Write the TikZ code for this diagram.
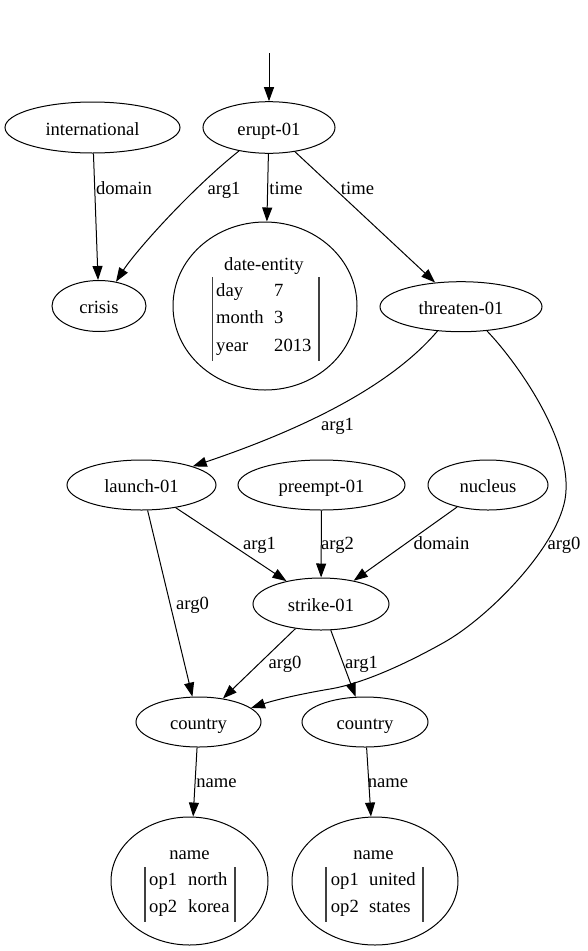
\documentclass[tikz,border=0pt]{standalone}
\usepackage{fontspec}
\setmainfont{Liberation Serif}
\usetikzlibrary{shapes.geometric,arrows.meta}
\begin{document}
\begin{tikzpicture}[x=1pt,y=-1pt,
  every node/.style={font=\fontsize{18.6}{22}\selectfont},
  concept/.style={ellipse, draw, line width=1pt, inner sep=0pt, text height=15pt, text depth=0pt, minimum height=51pt},
  lbl/.style={anchor=base, inner sep=0pt},
  cell/.style={anchor=base west, inner sep=0pt},
  rel/.style={draw, line width=1pt, -{Triangle[length=14pt,width=10pt]}},
  bar/.style={line width=1.3pt, black!75}]
\useasboundingbox (0,0) rectangle (588,951);

% concepts
\node[concept, minimum width=132pt, minimum height=51.6pt] (erupt) at (269,127.5) {erupt-01};
\node[concept, minimum width=175pt] (intl) at (92.5,127.5) {international};
\node[concept, minimum width=94pt] (crisis) at (99,306) {crisis};
\node[concept, minimum width=184pt, minimum height=168pt] (date) at (265,306) {};
\node[concept, minimum width=162pt, minimum height=50pt] (threaten) at (461,306.7) {threaten-01};
\node[concept, minimum width=149pt, minimum height=50pt] (launch) at (141.5,485) {launch-01};
\node[concept, minimum width=167pt, minimum height=50pt] (preempt) at (321.5,485) {preempt-01};
\node[concept, minimum width=120pt, minimum height=50pt] (nucleus) at (488,485) {nucleus};
\node[concept, minimum width=136pt, minimum height=52pt] (strike) at (321,604) {strike-01};
\node[concept, minimum width=125pt, minimum height=50pt] (country1) at (198.5,722) {country};
\node[concept, minimum width=126pt, minimum height=50pt] (country2) at (365,722) {country};
\node[concept, minimum width=157pt, minimum height=128pt] (name1) at (189.5,881) {};
\node[concept, minimum width=166pt, minimum height=128pt] (name2) at (375,881) {};

% date-entity attributes
\node[lbl] (dtitle) at (264,270) {date-entity};
\node[cell] (dk1) at (216,296) {day};   \node[cell] (dv1) at (274,296) {7};
\node[cell] (dk2) at (216,323) {month}; \node[cell] (dv2) at (274,323) {3};
\node[cell] (dk3) at (216,351) {year};  \node[cell] (dv3) at (274,351) {2013};
\draw[bar] (212.7,277) -- (212.7,361);
\draw[bar] (319,277) -- (319,361);

% name attributes (north korea)
\node[lbl] (n1title) at (189.5,859) {name};
\node[cell] (n1k1) at (149,885) {op1}; \node[cell] (n1v1) at (188,885) {north};
\node[cell] (n1k2) at (149,912) {op2}; \node[cell] (n1v2) at (188,912) {korea};
\draw[bar] (145,867) -- (145,922);
\draw[bar] (235,867) -- (235,922);

% name attributes (united states)
\node[lbl] (n2title) at (373.5,859) {name};
\node[cell] (n2k1) at (330.7,885) {op1}; \node[cell] (n2v1) at (369,885) {united};
\node[cell] (n2k2) at (330.7,912) {op2}; \node[cell] (n2v2) at (369,912) {states};
\draw[bar] (326,867) -- (326,922);
\draw[bar] (423,867) -- (423,922);

% relations
\coordinate (root) at (269,53);
\draw[rel] (root) -- (erupt);
\draw[rel] (intl) -- (crisis);
\draw[rel] (erupt.218) .. controls (190,190) and (135,252) .. (crisis.55);
\draw[rel] (erupt) -- (date);
\draw[rel] (erupt) -- (threaten);
\draw[rel] (threaten.226) .. controls (400,375) and (330,420) .. (launch.20);
\draw[rel] (launch) -- (strike);
\draw[rel] (preempt) -- (strike);
\draw[rel] (nucleus) -- (strike);
\draw[rel] (launch) -- (country1);
\draw[rel] (threaten.-43) .. controls (515,360) and (569,435) .. (566,490)
  .. controls (565,540) and (490,617) .. (443,643)
  .. controls (400,667) and (360,684) .. (330,689)
  .. controls (300,694) and (275,700) .. (country1.15);
\draw[rel] (strike) -- (country1);
\draw[rel] (strike) -- (country2);
\draw[rel] (country1) -- (name1);
\draw[rel] (country2) -- (name2);

% relation labels
\node[lbl] (l1) at (124,194) {domain};
\node[lbl] (l2) at (224,194) {arg1};
\node[lbl] (l3) at (286,194) {time};
\node[lbl] (l4) at (357.5,194) {time};
\node[lbl] (l5) at (337.5,430) {arg1};
\node[lbl] (l6) at (259.5,549) {arg1};
\node[lbl] (l7) at (337.5,549) {arg2};
\node[lbl] (l8) at (441.5,549) {domain};
\node[lbl] (l9) at (564,549) {arg0};
\node[lbl] (l10) at (192.5,609) {arg0};
\node[lbl] (l11) at (285,668) {arg0};
\node[lbl] (l12) at (361.5,668) {arg1};
\node[lbl] (l13) at (216.5,787) {name};
\node[lbl] (l14) at (388,787) {name};
\end{tikzpicture}
\end{document}
